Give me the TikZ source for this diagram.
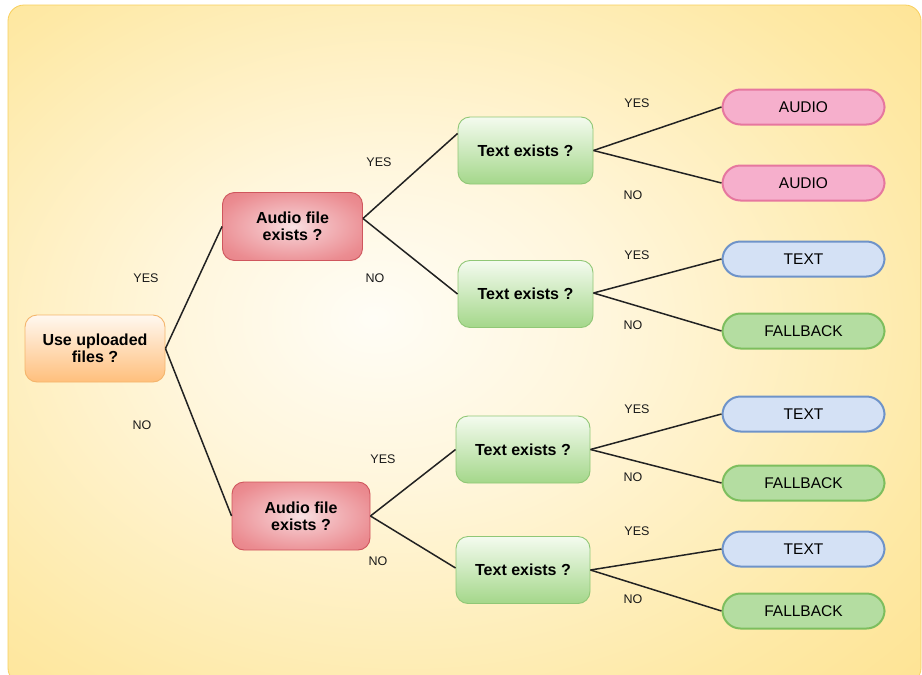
\documentclass[tikz,border=0pt]{standalone}
\usepackage{fontspec}
\setmainfont{Liberation Sans}
\usetikzlibrary{calc}

% palette
\definecolor{bgA}{HTML}{FFFDF6}
\definecolor{bgB}{HTML}{FFF6DC}
\definecolor{bgC}{HTML}{FEE9A6}
\definecolor{bgD}{HTML}{FDDB78}
\definecolor{bgE}{HTML}{FDD262}
\definecolor{bgLine}{HTML}{F8CF5C}
\definecolor{redA}{HTML}{F9E2E4}
\definecolor{redB}{HTML}{F3BCC0}
\definecolor{redC}{HTML}{EB8C91}
\definecolor{redD}{HTML}{E3737A}
\definecolor{redLine}{HTML}{CF565D}
\definecolor{orTop}{HTML}{FFF8F0}
\definecolor{orBot}{HTML}{FFBF7C}
\definecolor{orLine}{HTML}{F4B56C}
\definecolor{grTop}{HTML}{F4FBEF}
\definecolor{grBot}{HTML}{A4D78A}
\definecolor{grLine}{HTML}{90C776}
\definecolor{pinkFill}{HTML}{F6AFCC}
\definecolor{pinkLine}{HTML}{E6779F}
\definecolor{blueFill}{HTML}{D4E1F5}
\definecolor{blueLine}{HTML}{6E93C9}
\definecolor{lgFill}{HTML}{B4DDA1}
\definecolor{lgLine}{HTML}{7DBE5E}
\definecolor{wire}{HTML}{222222}

% soft glow of the backdrop and of the red boxes
\pgfdeclareradialshading{bgglow}{\pgfpoint{-5bp}{2bp}}{%
  color(0bp)=(bgA); color(12bp)=(bgB); color(30bp)=(bgC);
  color(50bp)=(bgD); color(72bp)=(bgE)}
\pgfdeclareradialshading{redglow}{\pgfpoint{0bp}{0bp}}{%
  color(0bp)=(redA); color(10bp)=(redB); color(28bp)=(redC);
  color(46bp)=(redD); color(70bp)=(redD)}

\tikzset{
  decision/.style={rounded corners=12pt, line width=0.9pt, align=center,
    inner sep=0pt, font=\fontsize{16}{17}\selectfont\bfseries},
  startbox/.style={decision, draw=orLine, top color=orTop, bottom color=orBot,
    minimum width=140pt, minimum height=67pt},
  audiobox/.style={decision, draw=redLine, shading=redglow,
    minimum width=140pt, minimum height=68pt},
  textbox/.style={decision, draw=grLine, top color=grTop, bottom color=grBot,
    minimum width=135pt, minimum height=67pt},
  leaf/.style={rounded corners=18pt, line width=2pt, inner sep=0pt,
    minimum width=162pt, minimum height=35pt,
    font=\fontsize{15.5}{16}\selectfont},
  audioleaf/.style={leaf, draw=pinkLine, fill=pinkFill},
  textleaf/.style={leaf, draw=blueLine, fill=blueFill},
  fallleaf/.style={leaf, draw=lgLine, fill=lgFill},
  wirestyle/.style={draw=wire, line width=1.5pt},
  answer/.style={font=\fontsize{12.5}{13}\selectfont, text=black!90, inner sep=0pt},
}

\begin{document}
\begin{tikzpicture}[x=1pt, y=-1pt]
  \useasboundingbox (0,0) rectangle (922,675);
  \fill[white] (0,0) rectangle (922,675);
  \shade[shading=bgglow, rounded corners=16pt] (8,5) rectangle (921,684);
  \draw[bgLine, line width=0.8pt, rounded corners=16pt] (8,5) rectangle (921,684);

  % decision boxes
  \node[startbox] (use) at (95,348.5) {Use uploaded\\files ?};
  \node[audiobox] (a1) at (292.5,226.5) {Audio file\\exists ?};
  \node[audiobox, minimum width=138pt] (a2) at (301,516) {Audio file\\exists ?};
  \node[textbox] (t1) at (525.5,150.5) {Text exists ?};
  \node[textbox] (t2) at (525.5,294) {Text exists ?};
  \node[textbox, minimum width=134pt] (t3) at (523,449.5) {Text exists ?};
  \node[textbox, minimum width=134pt] (t4) at (523,570) {Text exists ?};

  % outcomes
  \node[audioleaf] (o1) at (803.5,107) {AUDIO};
  \node[audioleaf] (o2) at (803.5,183) {AUDIO};
  \node[textleaf]  (o3) at (803.5,259) {TEXT};
  \node[fallleaf]  (o4) at (803.5,331) {FALLBACK};
  \node[textleaf]  (o5) at (803.5,414) {TEXT};
  \node[fallleaf]  (o6) at (803.5,483) {FALLBACK};
  \node[textleaf]  (o7) at (803.5,549) {TEXT};
  \node[fallleaf]  (o8) at (803.5,611) {FALLBACK};

  % connectors
  \path[wirestyle] (use.east) -- (a1.west);
  \path[wirestyle] (use.east) -- (a2.west);
  \path[wirestyle] ([yshift=8pt]a1.east) -- ([yshift=17pt]t1.west);
  \path[wirestyle] ([yshift=8pt]a1.east) -- (t2.west);
  \path[wirestyle] (a2.east) -- (t3.west);
  \path[wirestyle] (a2.east) -- ([yshift=2pt]t4.west);
  \path[wirestyle] (t1.east) -- (o1.west);
  \path[wirestyle] (t1.east) -- (o2.west);
  \path[wirestyle] ([yshift=1pt]t2.east) -- (o3.west);
  \path[wirestyle] ([yshift=1pt]t2.east) -- (o4.west);
  \path[wirestyle] (t3.east) -- (o5.west);
  \path[wirestyle] (t3.east) -- (o6.west);
  \path[wirestyle] (t4.east) -- (o7.west);
  \path[wirestyle] (t4.east) -- (o8.west);

  % branch answers
  \node[answer] (y0) at (146,278) {YES};
  \node[answer] (n0) at (142,425) {NO};
  \node[answer] (y1) at (379,162) {YES};
  \node[answer] (n1) at (375,278) {NO};
  \node[answer] (y2) at (383,459) {YES};
  \node[answer] (n2) at (378,561) {NO};
  \node[answer] (y3) at (637,103) {YES};
  \node[answer] (n3) at (633,195) {NO};
  \node[answer] (y4) at (637,255) {YES};
  \node[answer] (n4) at (633,325) {NO};
  \node[answer] (y5) at (637,409) {YES};
  \node[answer] (n5) at (633,477) {NO};
  \node[answer] (y6) at (637,531) {YES};
  \node[answer] (n6) at (633,599) {NO};
\end{tikzpicture}
\end{document}
